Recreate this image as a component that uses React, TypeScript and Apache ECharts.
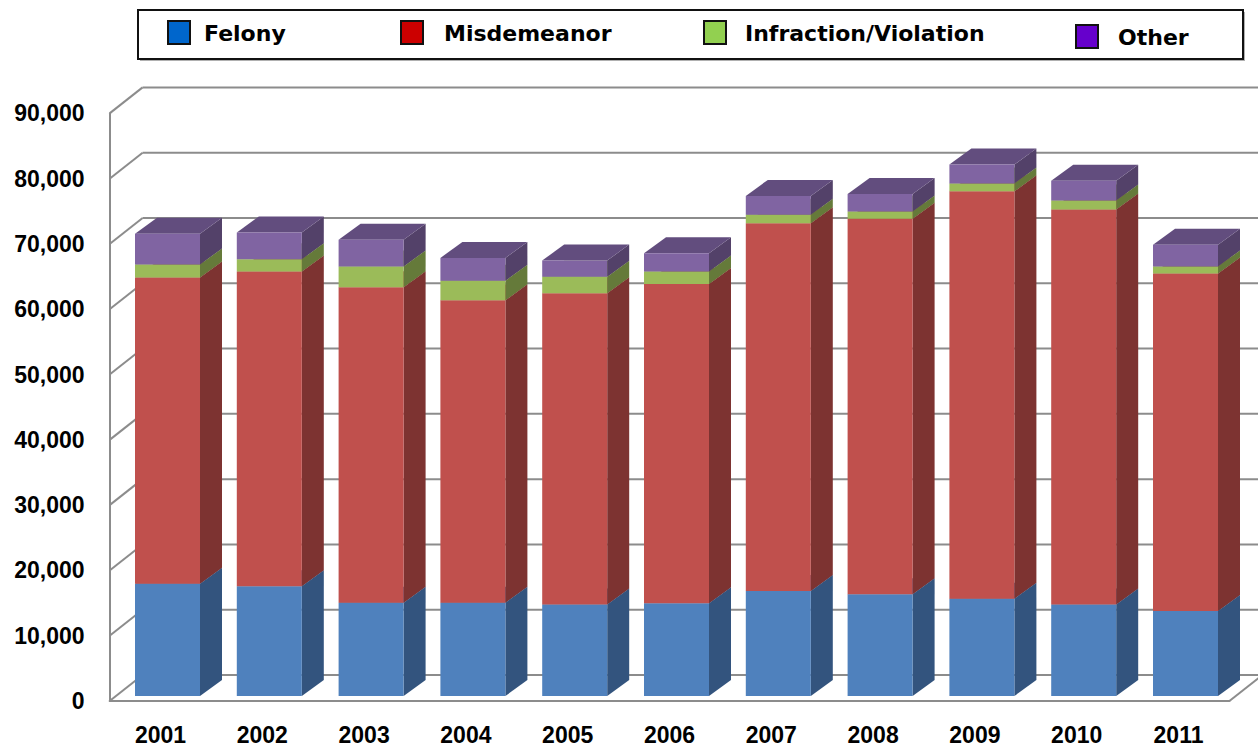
import React, { useEffect, useRef } from "react";
import * as echarts from "echarts";

const years = ["2001", "2002", "2003", "2004", "2005", "2006", "2007", "2008", "2009", "2010", "2011"];
const felony = [17200, 16800, 14300, 14300, 14000, 14200, 16100, 15600, 14900, 14000, 13000];
const misdemeanor = [46900, 48200, 48300, 46300, 47700, 48900, 56300, 57500, 62400, 60500, 51700];
const infraction = [2000, 1900, 3200, 3000, 2500, 1900, 1300, 1100, 1200, 1400, 1100];
const other = [4700, 4100, 4100, 3500, 2500, 2800, 2900, 2700, 2900, 3000, 3300];
const yTicks = [0, 10000, 20000, 30000, 40000, 50000, 60000, 70000, 80000, 90000];

const seriesNames = ["Felony", "Misdemeanor", "Infraction/Violation", "Other"];
const faceColors = [
  { front: "#4f81bd", side: "#33547e", top: "#3f6797" },
  { front: "#c0504d", side: "#7d3331", top: "#9a403e" },
  { front: "#9bbb59", side: "#657a3a", top: "#7c9647" },
  { front: "#8064a2", side: "#534169", top: "#624d7e" },
];
const legendColors = ["#0066cc", "#cc0000", "#92d050", "#6600cc"];

const GRID_COLOR = "#8c8c8c";
const BAR_W = 65;
const BAR_OFF_X = 7;
const BAR_OFF_Y = -5;
const DEPTH_X = 22;
const DEPTH_Y = -16;
const WALL_X = 33;
const WALL_Y = -26;

export default function App() {
  const ref = useRef<HTMLDivElement>(null);
  useEffect(() => {
    document.body.style.margin = "0";
    if (!ref.current) return;
    const chart = echarts.init(ref.current, null, { renderer: "svg" });
    const allSeries = [felony, misdemeanor, infraction, other];
    const stackData = allSeries.map((arr, si) =>
      arr.map((v, i) => {
        let base = 0;
        for (let k = 0; k < si; k++) base += allSeries[k][i];
        return [i, base, v];
      })
    );

    const barSeries = stackData.map((data, si) => ({
      type: "custom",
      name: seriesNames[si],
      z: 3 + si,
      clip: false,
      encode: { x: 0, y: 1 },
      data,
      renderItem: (params: any, api: any) => {
        const x = api.value(0);
        const base = api.value(1);
        const top = base + api.value(2);
        const p0 = api.coord([x, base]);
        const p1 = api.coord([x, top]);
        const left = p0[0] - BAR_W / 2 + BAR_OFF_X;
        const right = left + BAR_W;
        const yb = p0[1] + BAR_OFF_Y;
        const yt = p1[1] + BAR_OFF_Y;
        const c = faceColors[si];
        return {
          type: "group",
          children: [
            {
              type: "polygon",
              shape: {
                points: [
                  [right, yb],
                  [right + DEPTH_X, yb + DEPTH_Y],
                  [right + DEPTH_X, yt + DEPTH_Y],
                  [right, yt],
                ],
              },
              style: { fill: c.side },
            },
            {
              type: "polygon",
              shape: {
                points: [
                  [left, yt],
                  [right, yt],
                  [right + DEPTH_X, yt + DEPTH_Y],
                  [left + DEPTH_X, yt + DEPTH_Y],
                ],
              },
              style: { fill: c.top },
            },
            {
              type: "rect",
              shape: { x: left, y: yt, width: BAR_W, height: yb - yt },
              style: { fill: c.front },
            },
          ],
        };
      },
    }));

    const wallSeries = {
      type: "custom",
      name: "walls",
      z: 1,
      clip: false,
      silent: true,
      encode: { x: 0, y: 1 },
      data: yTicks.map((v) => [0, v]),
      renderItem: (params: any, api: any) => {
        const v = api.value(1);
        const p = api.coord([0, v]);
        const band = api.size([1, 0])[0];
        const x0 = p[0] - band / 2;
        const xEnd = x0 + band * years.length;
        const lineStyle = { stroke: GRID_COLOR, lineWidth: 2 };
        const children: any[] = [
          { type: "line", shape: { x1: x0, y1: p[1], x2: x0 + WALL_X, y2: p[1] + WALL_Y }, style: lineStyle },
          { type: "line", shape: { x1: x0 + WALL_X, y1: p[1] + WALL_Y, x2: 1260, y2: p[1] + WALL_Y }, style: lineStyle },
        ];
        if (v === 0) {
          children.push({
            type: "line",
            shape: { x1: xEnd, y1: p[1], x2: xEnd + WALL_X, y2: p[1] + WALL_Y },
            style: lineStyle,
          });
        }
        return { type: "group", children };
      },
    };

    const legendX = [168, 401, 704, 1076];
    const legendTextX = [204, 444, 745, 1118];
    const legendY = [21, 21, 21, 25];
    const legendGraphics: any[] = [
      { type: "rect", shape: { x: 140, y: 12, width: 1105, height: 49 }, style: { fill: "#b0b0b0" }, z: 10 },
      { type: "rect", shape: { x: 138, y: 10, width: 1105, height: 49 }, style: { fill: "#fff", stroke: "#111", lineWidth: 2 }, z: 11 },
    ];
    seriesNames.forEach((n, i) => {
      legendGraphics.push({
        type: "rect",
        shape: { x: legendX[i], y: legendY[i], width: 22, height: 23 },
        style: { fill: legendColors[i], stroke: "#111", lineWidth: 2 },
        z: 12,
      });
      legendGraphics.push({
        type: "text",
        x: legendTextX[i],
        y: legendY[i] + 12,
        style: {
          text: n,
          fill: "#000",
          font: "bold 22px 'DejaVu Sans'",
          textVerticalAlign: "middle",
          textAlign: "left",
        },
        z: 12,
      });
    });

    chart.setOption({
      animation: false,
      backgroundColor: "#fff",
      grid: { left: 109.6, right: 28.6, top: 113.4, bottom: 44 },
      xAxis: {
        type: "category",
        data: years,
        boundaryGap: true,
        axisLine: { show: true, lineStyle: { color: GRID_COLOR, width: 2 } },
        axisTick: { show: false },
        axisLabel: {
          color: "#000",
          fontSize: 23,
          fontWeight: "bold",
          fontFamily: "'Liberation Sans', Arial, sans-serif",
          margin: 22,
        },
        splitLine: { show: false },
      },
      yAxis: {
        type: "value",
        min: 0,
        max: 90000,
        interval: 10000,
        axisLine: { show: true, lineStyle: { color: GRID_COLOR, width: 2 } },
        axisTick: { show: false },
        splitLine: { show: false },
        axisLabel: {
          color: "#000",
          fontSize: 23,
          fontWeight: "bold",
          fontFamily: "'Liberation Sans', Arial, sans-serif",
          margin: 25,
          formatter: (v: number) => v.toLocaleString("en-US"),
        },
      },
      graphic: legendGraphics,
      series: [wallSeries, ...barSeries],
    });
    return () => chart.dispose();
  }, []);
  return <div ref={ref} style={{ width: 1258, height: 746 }} />;
}
